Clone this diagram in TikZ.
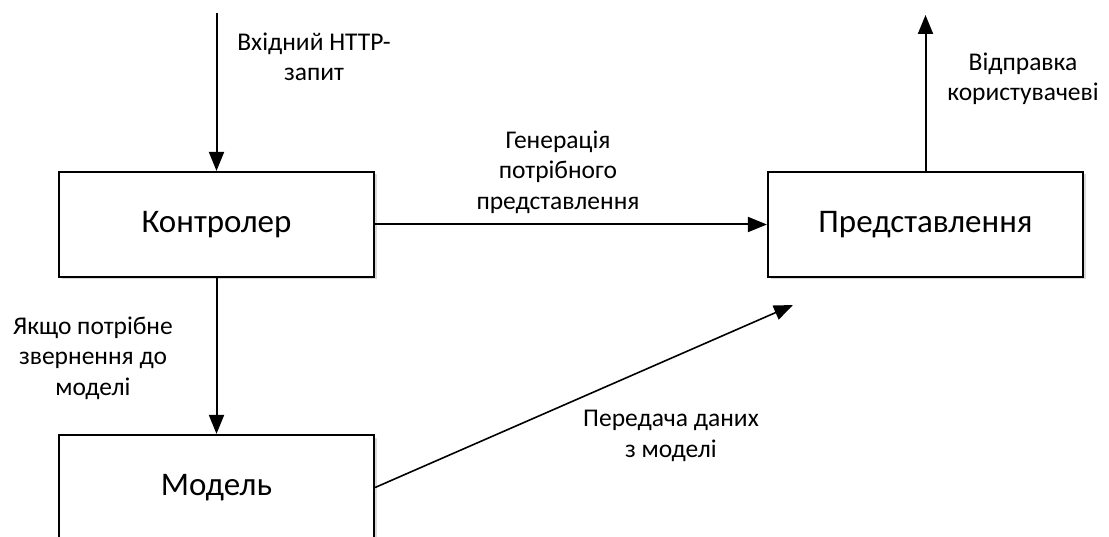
\documentclass[tikz,border=0pt]{standalone}
\usepackage{fontspec}
\setmainfont{Carlito}
\usetikzlibrary{arrows.meta,shadows}
\tikzset{blk/.style={draw,line width=2.2pt,fill=white,minimum width=315pt,minimum height=105pt,font=\fontsize{33}{38}\selectfont,drop shadow={shadow xshift=2.5pt,shadow yshift=-2.5pt,opacity=.3}}, blklabel/.style={align=center,inner sep=0pt,font=\fontsize{25.5}{30.5}\selectfont}, flow/.style={line width=2pt,-{Triangle[length=19pt,width=15pt]}}}

\begin{document}
\begin{tikzpicture}[x=1pt,y=-1pt]
\useasboundingbox (0,0) rectangle (1109,537);
\node[blk] (ctrl) at (216.5,224.5) {Контролер};
\node[blk] (view) at (925.5,224.5) {Представлення};
\node[blk] (model) at (216.5,487.5) {Модель};
\coordinate (req) at (216.5,13);
\coordinate (resp) at (925.5,15);
\coordinate (data) at (793,305);
\draw[flow] (req) -- (ctrl);
\draw[flow] (view) -- (resp);
\draw[flow] (ctrl) -- (view);
\draw[flow] (ctrl) -- (model);
\draw[flow,line width=1.6pt] (model.east) -- (data);
\node[blklabel] (reqlbl) at (314,57) {Вхідний HTTP-\\запит};
\node[blklabel] (genlbl) at (558,172) {Генерація\\потрібного\\представлення};
\node[blklabel] (resplbl) at (1023,79) {Відправка\\користувачеві};
\node[blklabel] (modlbl) at (93,358) {Якщо потрібне\\звернення до\\моделі};
\node[blklabel] (datalbl) at (671,436) {Передача даних\\з моделі};
\end{tikzpicture}
\end{document}
